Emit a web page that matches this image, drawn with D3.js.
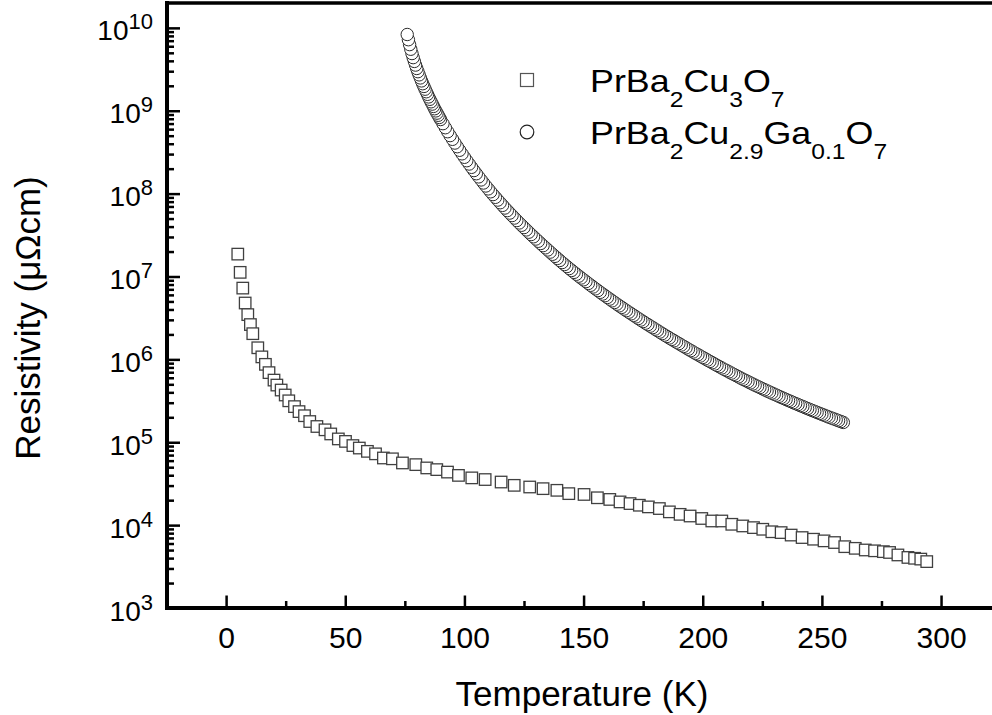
<!DOCTYPE html>
<html>
<head>
<meta charset="utf-8">
<script src="https://cdn.jsdelivr.net/npm/d3@7"></script>
<style>
  body { margin: 0; background: #fff; }
  svg { display: block; }
</style>
</head>
<body>
<div id="chart"></div>
<script>
// PrBa2Cu3O7 (squares): temperature (K) and log10 of resistivity (µΩcm)
const pbcoTemp = [4.9, 5.9, 7.0, 8.0, 9.1, 10.2, 11.2, 13.3, 15.0, 16.5,
  18.0, 20.1, 21.3, 23.1, 24.8, 26.3, 28.7, 30.6, 32.9, 35.1,
  38.1, 41.5, 43.9, 47.1, 50.1, 53.2, 55.9, 59.3, 62.7, 66.0,
  69.8, 74.0, 79.6, 84.2, 88.4, 92.9, 97.5, 103.1, 108.7, 115.4,
  120.9, 127.4, 133.0, 138.8, 143.8, 150.2, 155.8, 161.0, 165.3, 169.5,
  173.4, 177.2, 181.8, 186.0, 190.5, 194.7, 199.6, 203.8, 208.0, 212.2,
  216.8, 221.3, 225.2, 229.0, 232.9, 237.1, 241.7, 246.5, 250.9, 255.3,
  259.6, 264.0, 268.2, 272.1, 275.8, 278.4, 281.9, 286.1, 288.9, 291.5, 294.0];
const pbcoLogRho = [7.27, 7.05, 6.86, 6.68, 6.54, 6.42, 6.31, 6.14, 6.03, 5.94,
  5.84, 5.75, 5.69, 5.63, 5.57, 5.50, 5.43, 5.37, 5.32, 5.25,
  5.19, 5.15, 5.10, 5.04, 5.01, 4.96, 4.93, 4.89, 4.86, 4.81,
  4.80, 4.75, 4.73, 4.69, 4.67, 4.64, 4.60, 4.57, 4.55, 4.52,
  4.48, 4.46, 4.44, 4.42, 4.38, 4.37, 4.33, 4.31, 4.28, 4.26,
  4.24, 4.22, 4.20, 4.16, 4.13, 4.11, 4.08, 4.05, 4.05, 4.01,
  3.99, 3.97, 3.95, 3.92, 3.91, 3.88, 3.85, 3.83, 3.81, 3.79,
  3.74, 3.72, 3.70, 3.69, 3.68, 3.67, 3.64, 3.61, 3.60, 3.59, 3.56];

// PrBa2Cu2.9Ga0.1O7 (circles)
const gaTemp = [76, 76.5, 77, 77.5, 78, 78.5, 79, 79.5, 80, 80.5, 81, 81.5, 82, 82.5,
  83, 83.5, 84, 84.5, 85, 85.5, 86, 86.5, 87, 87.5, 88, 88.5, 89, 89.5, 90,
  91, 92, 93, 94, 95, 96, 97, 98, 99, 100,
  101, 102, 103, 104, 105, 106, 107, 108, 109, 110,
  111, 112, 113, 114, 115, 116, 117, 118, 119, 120,
  121, 122, 123, 124, 125, 126, 127, 128, 129, 130,
  131, 132, 133, 134, 135, 136, 137, 138, 139, 140,
  141, 142, 143, 144, 145, 146, 147, 148, 149, 150,
  151, 152, 153, 154, 155, 156, 157, 158, 159, 160,
  161, 162, 163, 164, 165, 166, 167, 168, 169, 170,
  171, 172, 173, 174, 175, 176, 177, 178, 179, 180,
  181, 182, 183, 184, 185, 186, 187, 188, 189, 190,
  191, 192, 193, 194, 195, 196, 197, 198, 199, 200,
  201, 202, 203, 204, 205, 206, 207, 208, 209, 210,
  211, 212, 213, 214, 215, 216, 217, 218, 219, 220,
  221, 222, 223, 224, 225, 226, 227, 228, 229, 230,
  231, 232, 233, 234, 235, 236, 237, 238, 239, 240,
  241, 242, 243, 244, 245, 246, 247, 248, 249, 250,
  251, 252, 253, 254, 255, 256, 257, 258, 259];
const gaLogRho = [9.920, 9.857, 9.798, 9.742, 9.690, 9.641, 9.595, 9.551, 9.510, 9.471,
  9.433, 9.396, 9.360, 9.326, 9.293, 9.260, 9.229, 9.198, 9.167, 9.138,
  9.108, 9.080, 9.052, 9.024, 8.998, 8.971, 8.945, 8.919, 8.894,
  8.844, 8.795, 8.747, 8.700, 8.655, 8.610, 8.566, 8.523, 8.480, 8.438,
  8.397, 8.357, 8.317, 8.278, 8.240, 8.202, 8.165, 8.128, 8.092, 8.057,
  8.022, 7.988, 7.955, 7.922, 7.890, 7.858, 7.826, 7.795, 7.765, 7.735,
  7.705, 7.675, 7.646, 7.618, 7.590, 7.562, 7.534, 7.506, 7.479, 7.452,
  7.425, 7.398, 7.372, 7.346, 7.320, 7.294, 7.268, 7.243, 7.218, 7.193,
  7.168, 7.144, 7.120, 7.096, 7.073, 7.050, 7.027, 7.004, 6.982, 6.960,
  6.938, 6.916, 6.894, 6.873, 6.851, 6.830, 6.809, 6.788, 6.768, 6.747,
  6.727, 6.706, 6.686, 6.666, 6.646, 6.627, 6.607, 6.588, 6.569, 6.550,
  6.531, 6.512, 6.493, 6.474, 6.456, 6.437, 6.419, 6.401, 6.383, 6.365,
  6.347, 6.329, 6.311, 6.293, 6.276, 6.258, 6.241, 6.224, 6.207, 6.190,
  6.173, 6.156, 6.139, 6.122, 6.105, 6.089, 6.072, 6.056, 6.040, 6.023,
  6.007, 5.991, 5.975, 5.959, 5.943, 5.927, 5.911, 5.896, 5.880, 5.865,
  5.849, 5.834, 5.819, 5.804, 5.789, 5.774, 5.759, 5.745, 5.730, 5.716,
  5.702, 5.688, 5.674, 5.660, 5.646, 5.633, 5.619, 5.606, 5.593, 5.580,
  5.567, 5.554, 5.541, 5.528, 5.516, 5.503, 5.491, 5.478, 5.466, 5.454,
  5.442, 5.430, 5.418, 5.406, 5.394, 5.383, 5.371, 5.360, 5.348, 5.337,
  5.326, 5.314, 5.303, 5.292, 5.282, 5.271, 5.260, 5.249, 5.239];

// Tick values
const xMajorTicks = [0, 50, 100, 150, 200, 250, 300];
const xMinorTicks = [25, 75, 125, 175, 225, 275];
const yMajorExp = [3, 4, 5, 6, 7, 8, 9, 10];

const font = "'Liberation Sans', Arial, Helvetica, sans-serif";

let width = 992,
  height = 715,
  plotLeft = 167,
  plotTop = 3,
  plotBottom = 608,
  plotRight = 993;

let svg = d3.select("#chart")
  .append("svg")
    .attr("width", width)
    .attr("height", height)
    .attr("font-family", font);

let xScale = d3.scaleLinear()
  .domain([-24.8, 321.8])
  .range([plotLeft, plotRight]);

let yScale = d3.scaleLog()
  .domain([1e3, Math.pow(10, 10.3)])
  .range([plotBottom, plotTop]);

let pbcoData = d3.zip(pbcoTemp, pbcoLogRho).map(([t, e]) => ({ t: t, rho: Math.pow(10, e) }));
let gaData = d3.zip(gaTemp, gaLogRho).map(([t, e]) => ({ t: t, rho: Math.pow(10, e) }));

// Squares
let sq = 11.5;
svg.append("g")
  .selectAll("rect")
  .data(pbcoData)
  .join("rect")
    .attr("x", d => xScale(d.t) - sq / 2)
    .attr("y", d => yScale(d.rho) - sq / 2)
    .attr("width", sq)
    .attr("height", sq)
    .attr("fill", "#fff")
    .attr("stroke", "#404040")
    .attr("stroke-width", 1.3);

// Circles, drawn from the warm end so the coldest point sits on top
svg.append("g")
  .selectAll("circle")
  .data(gaData.slice().reverse())
  .join("circle")
    .attr("cx", d => xScale(d.t))
    .attr("cy", d => yScale(d.rho))
    .attr("r", 6.2)
    .attr("fill", "#fff")
    .attr("stroke", "#2a2a2a")
    .attr("stroke-width", 1);

// X axis major and minor ticks (pointing inward)
let xAxis = svg.append("g")
    .attr("transform", "translate(0," + plotBottom + ")")
    .call(d3.axisBottom(xScale).tickValues(xMajorTicks).tickSize(-12.5).tickSizeOuter(0));
xAxis.select(".domain").remove();
xAxis.attr("font-family", font).attr("font-size", 30);
xAxis.selectAll("line").attr("stroke", "#000").attr("stroke-width", 2.5);
xAxis.selectAll("text")
    .attr("y", 40)
    .attr("dy", null)
    .attr("fill", "#000");

let xMinor = svg.append("g")
    .attr("transform", "translate(0," + plotBottom + ")")
    .call(d3.axisBottom(xScale).tickValues(xMinorTicks).tickSize(-7).tickSizeOuter(0).tickFormat(""));
xMinor.select(".domain").remove();
xMinor.selectAll("line").attr("stroke", "#000").attr("stroke-width", 2.5);

// Y axis: decades with superscript labels, minor ticks 2..9
let yMinorTicks = [];
yMajorExp.slice(0, -1).forEach(e => {
  for (let k = 2; k <= 9; k++) yMinorTicks.push(k * Math.pow(10, e));
});

let yAxis = svg.append("g")
    .attr("transform", "translate(" + plotLeft + ",0)")
    .call(d3.axisLeft(yScale).tickValues(yMajorExp.map(e => Math.pow(10, e))).tickSize(-13).tickSizeOuter(0));
yAxis.select(".domain").remove();
yAxis.attr("font-family", font).attr("font-size", 28);
yAxis.selectAll("line").attr("stroke", "#000").attr("stroke-width", 2.5);
yAxis.selectAll("text")
    .attr("x", -14)
    .attr("y", 12)
    .attr("dy", null)
    .attr("fill", "#000")
    .text("")
    .each(function (d) {
      let t = d3.select(this);
      t.append("tspan").text("10");
      t.append("tspan")
        .attr("dy", -11)
        .attr("font-size", 22)
        .text(Math.round(Math.log10(d)));
    });

let yMinor = svg.append("g")
    .attr("transform", "translate(" + plotLeft + ",0)")
    .call(d3.axisLeft(yScale).tickValues(yMinorTicks).tickSize(-7).tickSizeOuter(0).tickFormat(""));
yMinor.select(".domain").remove();
yMinor.selectAll("line").attr("stroke", "#000").attr("stroke-width", 2.5);

// Frame
let frame = svg.append("g").attr("stroke", "#000").attr("stroke-linecap", "square");
frame.append("line").attr("x1", plotLeft).attr("x2", plotLeft).attr("y1", plotTop).attr("y2", plotBottom).attr("stroke-width", 4);
frame.append("line").attr("x1", plotLeft).attr("x2", width + 5).attr("y1", plotBottom).attr("y2", plotBottom).attr("stroke-width", 4);
frame.append("line").attr("x1", plotLeft).attr("x2", width + 5).attr("y1", plotTop).attr("y2", plotTop).attr("stroke-width", 3.5);

// Axis titles
svg.append("text")
    .attr("x", 582)
    .attr("y", 706)
    .attr("text-anchor", "middle")
    .attr("font-size", 35)
    .text("Temperature (K)");

svg.append("text")
    .attr("transform", "translate(40,318) rotate(-90)")
    .attr("text-anchor", "middle")
    .attr("font-size", 35)
    .text("Resistivity (\u03BC\u03A9cm)");

// Legend
let legend = svg.append("g");
legend.append("rect")
    .attr("x", 527 - 6.5).attr("y", 80 - 6.5)
    .attr("width", 13).attr("height", 13)
    .attr("fill", "#fff").attr("stroke", "#555").attr("stroke-width", 1.2);
legend.append("circle")
    .attr("cx", 527).attr("cy", 132).attr("r", 6.8)
    .attr("fill", "#fff").attr("stroke", "#222").attr("stroke-width", 1.2);

// chemical formula as [text, isSubscript] parts
function formula(g, parts) {
  let t = g.append("text").attr("font-size", 32);
  let low = false;
  parts.forEach(([s, sub]) => {
    let ts = t.append("tspan").text(s);
    if (sub && !low) { ts.attr("dy", 15).attr("font-size", 22); low = true; }
    else if (sub) { ts.attr("font-size", 22); }
    else if (low) { ts.attr("dy", -15); low = false; }
  });
}
formula(legend.append("g").attr("transform", "translate(590,92) scale(1.12,1)"),
  [["PrBa", 0], ["2", 1], ["Cu", 0], ["3", 1], ["O", 0], ["7", 1]]);
formula(legend.append("g").attr("transform", "translate(590,144) scale(1.12,1)"),
  [["PrBa", 0], ["2", 1], ["Cu", 0], ["2.9", 1], ["Ga", 0], ["0.1", 1], ["O", 0], ["7", 1]]);
</script>
</body>
</html>
